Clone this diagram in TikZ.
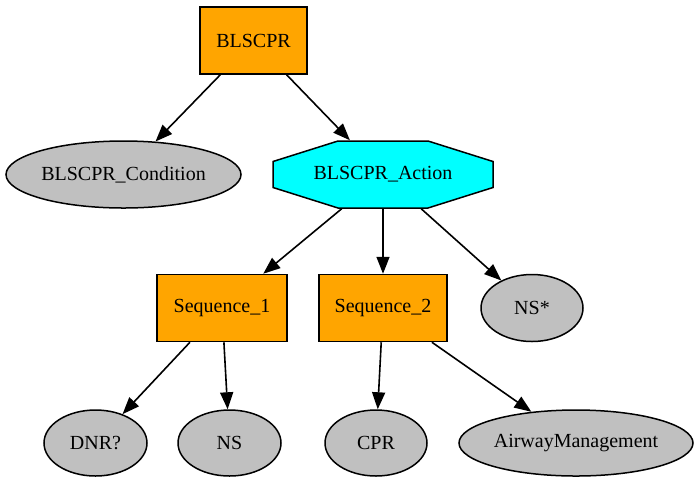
\documentclass[tikz,border=0pt]{standalone}
\usepackage{fontspec}
\setmainfont{Liberation Serif}
\usetikzlibrary{shapes.geometric,arrows.meta,calc}
\definecolor{nodeorange}{HTML}{FFA500}
\definecolor{nodecyan}{HTML}{00FFFF}
\definecolor{nodegrey}{HTML}{C0C0C0}
\begin{document}
\begin{tikzpicture}[x=1pt,y=-1pt,
  base/.style={line width=1.5pt, inner sep=0pt, font=\fontsize{20}{24}\selectfont},
  boxnode/.style={base, draw=black, rectangle, fill=nodeorange, minimum height=67pt},
  ellnode/.style={base, draw=black, ellipse, fill=nodegrey, minimum height=66pt},
  conn/.style={line width=1.6pt, -{Triangle[length=17pt,width=13pt]}}]
\useasboundingbox (0,0) rectangle (700,483);
\fill[white] (0,0) rectangle (700,483);
% top
\node[boxnode, minimum width=107pt] (root) at (253.5,40.5) {BLSCPR};
\node[ellnode, minimum width=235pt, minimum height=67pt] (cond) at (123.5,174.5) {BLSCPR\_Condition};
% octagon
\coordinate (actc) at (383,174.5);
\filldraw[fill=nodecyan, draw=black, line width=1.5pt]
  ($(actc)+(-45,-33.5)$) -- ($(actc)+(45,-33.5)$) -- ($(actc)+(110,-13)$) -- ($(actc)+(110,13)$)
  -- ($(actc)+(45,33.5)$) -- ($(actc)+(-45,33.5)$) -- ($(actc)+(-110,13)$) -- ($(actc)+(-110,-13)$) -- cycle;
\node[base, minimum width=220pt, minimum height=67pt] (act) at (actc) {BLSCPR\_Action};
% middle row
\node[boxnode, minimum width=130pt] (seq1) at (222,308) {Sequence\_1};
\node[boxnode, minimum width=128pt] (seq2) at (383,308) {Sequence\_2};
\node[ellnode, minimum width=102pt, minimum height=67pt] (nsstar) at (532,308) {NS*};
% bottom row
\node[ellnode, minimum width=103pt] (dnr) at (95.5,443) {DNR?};
\node[ellnode, minimum width=103pt] (ns) at (229.5,443) {NS};
\node[ellnode, minimum width=102pt] (cpr) at (376,443) {CPR};
\node[ellnode, minimum width=234pt] (airway) at (576,443) {AirwayManagement};
% connectors
\draw[conn] (root) -- (cond);
\draw[conn] (root) -- (act);
\draw[conn] (act) -- (seq1);
\draw[conn] (act) -- (seq2);
\draw[conn] (act) -- (nsstar);
\draw[conn] (seq1) -- (dnr);
\draw[conn] (seq1) -- (ns);
\draw[conn] (seq2) -- (cpr);
\draw[conn] (seq2) -- (airway);
\end{tikzpicture}
\end{document}
